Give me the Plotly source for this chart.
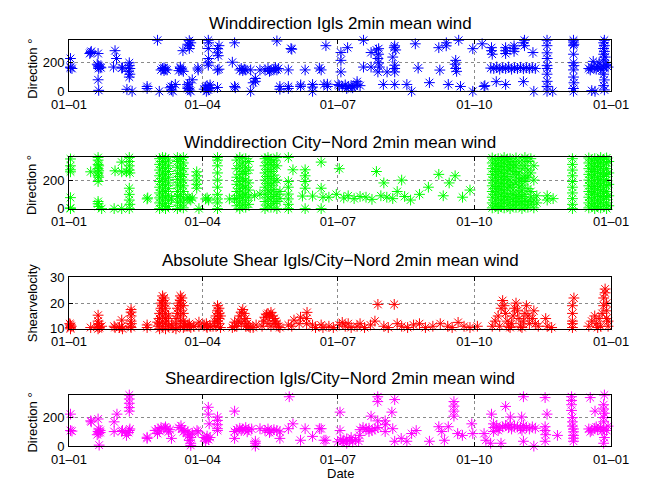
import plotly.graph_objects as go

# ---------------- data (day of year since 01-01, value) ----------------
IGLS_DIR = [
    (1,230),(1,165),(2,160),(1,170),
    (14.6,272),(15,280),(14,265),
    (19.6,265),(19.6,183),(20,175),(19,190),(21,170),(20,160),(21.5,165),(19.6,81),(20,7),
    (31,285),(32,230),(30,170),(35.5,163),(36,165),
    (40.6,200),(40.6,180),(41,160),(40,140),(41,120),(40.6,100),(39,14),(42.5,0),
    (52.6,34),(52.6,20),(60.8,0),(59.6,358),
    (62,150),(63,160),(64,145),(65,155),(66,150),(64,165),
    (69,10),(69,34),(68,25),(71.6,48),(70,0),
    (74,145),(75,160),(76,150),(77,140),(75,170),
    (76.7,285),(81,300),(81,320),(82,340),(81,355),(80,330),
    (79.8,47),(80,30),(81,10),(82,0),(81,60),(83,81),(80,20),
    (86.8,163),(87,150),
    (92,30),(93,40),(94,25),(95,20),(93.8,10),(92.5,0),(95,45),(91,15),
    (93.8,183),(93.8,200),(94,230),(93.8,300),(94,340),(93.8,358),
    (100,300),(100,270),(100.5,250),(101,320),(100,149),(101,155),(100,27),
    (111.5,340),(110,204),(111.5,34),(112,25),
    (115,150),(116,160),(117,145),(118,155),(119,150),
    (122.3,150),(122.3,0),(125.5,70),(125.5,90),(124,60),(128.6,150),
    (132,150),(134,160),(136,145),(138,155),(140,150),(141,160),(135,140),(139,165),
    (140,353),(142,34),(142,15),(147.7,150),(149.5,300),(150,295),(147.7,34),(147.7,20),
    (155.9,34),(156,45),(159,150),(164,0),(164,30),(164,48),(169.8,150),(173,320),(174,34),(174,50),
    (168.6,163),(171.7,48),
    (181.2,48),(183.1,272),(183.1,217),(183.1,136),(187.6,306),
    (182,40),(184,34),(186,45),(188,30),(190,40),(192,35),(194,50),(196,40),(187,20),(191,25),
    (194,68),(198.3,170),(198.3,358),(203.4,170),(203.4,272),
    (208.5,299),(208.5,260),(208,230),(208.5,200),(209,170),(208,136),(207,290),
    (214.2,136),(219.3,319),(219,306),(220,290),(219.3,183),(218,240),(219.3,160),(219.3,136),
    (211.7,48),(219.3,48),(227.5,48),(230.7,0),(233.2,333),(235.1,163),(242.7,61),
    (249,306),(249.7,149),(254.1,340),(254,319),(255.4,48),(260.4,217),(260,190),(260.4,160),
    (261,140),(262.4,358),(263.6,34),(271.9,299),(271.9,0),
    (278.2,333),(279.5,34),(280,40),
    (284.5,306),(284.5,285),(285,260),
    (284,163),(286,160),(288,170),(290,155),(292,165),(294,160),(296,170),(298,155),
    (300,165),(302,160),(304,168),(306,158),(308,165),(310,160),(312,165),(314,160),
    (294,306),(294,285),(294,265),(299.7,319),(299.7,300),(299.7,280),(306.7,358),(306,340),
    (306.7,320),(312.4,272),
    (287.7,68),(294,48),(306,68),(313,0),
    (321.9,358),(321.9,320),(321.9,270),(322,230),(321.9,180),(322,160),(321.9,120),(322,70),
    (321.9,34),(321.9,0),(325.7,0),
    (339.7,358),(339.7,345),(340,330),(339.7,320),(339.7,260),(339.7,200),(340,180),(339.7,150),
    (339.7,100),(340,60),(339.7,20),(339.7,0),
    (350,160),(352,170),(354,165),(356,175),(358,160),(360,170),(362,180),(351,150),(355,155),
    (359,150),(361,190),(353,210),(357,200),(363,170),
    (354.2,0),(352,5),
    (360.5,358),(360,340),(360.5,320),(360,300),(360.5,280),(360,260),(361,240),(360,220),
    (360,120),(360.5,80),(360,40),(360.5,10),
]

CITY_DIR = [
    (1,348),(1,300),(1,272),(1,258),(1,77),(1,5),(1,0),
    (14.6,258),
    (19.6,358),(19.6,340),(19.6,310),(20,300),(19.6,280),(20,265),(19.6,250),(19.6,230),(20,220),
    (19.6,190),(19.6,50),(19.6,34),(20,15),
    (22,0),(30.4,0),(31,265),(35.5,326),(35.5,258),(35.5,0),(38.7,258),
    (40.6,358),(40.6,330),(40.6,300),(40.6,270),(41,250),(40.6,143),(40.6,100),(40.6,60),(41,30),(40.6,0),
    (52.6,68),(53,75),
    (61,0),(61,40),(61,75),(61,110),(61,150),(61,190),(61,230),(61,270),(61,310),(61,350),
    (63,20),(63,60),(63,95),(63,130),(63,170),(63,210),(63,250),(63,290),(63,330),(63,358),
    (65,0),(65,35),(65,80),(65,120),(65,160),(65,200),(65,240),(65,280),(65,320),(65,355),
    (67,15),(67,55),(67,90),(67,140),(67,180),(67,220),(67,260),(67,300),(67,340),
    (69,68),
    (73,0),(73,45),(73,85),(73,120),(73,165),(73,205),(73,245),(73,290),(73,330),(73,358),
    (75,20),(75,60),(75,100),(75,145),(75,185),(75,225),(75,265),(75,305),(75,345),
    (77,5),(77,40),(77,75),(77,120),(77,160),(77,200),(77,240),(77,280),(77,320),(77,358),
    (81,68),(82,60),(83,75),(80,80),
    (86,143),(86,170),(86,200),(86,230),(86,258),(87.5,0),
    (92,68),(93,75),(94,60),
    (100,0),(100,40),(100,68),(100,100),(100,150),(100,200),(100,250),(100,300),(100,340),(100,358),
    (108,68),(111.5,68),
    (113,20),(113,70),(113,120),(113,170),(113,220),(113,280),(113,340),
    (115,0),(115,45),(115,90),(115,140),(115,190),(115,240),(115,300),(115,358),
    (117,25),(117,75),(117,110),(117,160),(117,210),(117,260),(117,320),
    (119,10),(119,55),(119,100),(119,150),(119,200),(119,245),(119,290),(119,350),
    (121,30),(121,80),(121,130),(121,180),(121,270),(121,330),
    (125,90),(128.6,102),
    (132,0),(132,50),(132,100),(132,150),(132,200),(132,250),(132,300),(132,350),
    (134,25),(134,75),(134,125),(134,175),(134,225),(134,275),(134,325),(134,358),
    (136,10),(136,60),(136,110),(136,160),(136,210),(136,260),(136,310),(136,345),
    (138,35),(138,85),(138,135),(138,185),(138,235),(138,285),(138,335),
    (140,0),(140,50),(140,100),(140,200),(140,300),(140,358),
    (142,70),(142,120),
    (147.7,358),(147.7,190),(147.7,150),(147.7,102),(147.7,68),(147.7,30),(147.7,0),
    (150.8,272),(157.2,88),(159,272),(159,230),(159,190),(159,143),(159,0),(164,88),
    (169.8,326),(169.8,143),(169.8,0),(171,80),
    (175,80),(180,100),(182,280),(185,75),(188,90),(192,70),(196,85),(200,80),(204,65),(207,260),
    (210,90),(212,180),(214,80),(218,70),(221,120),(224,200),(226,85),(230,60),(236,100),(242,150),
    (249,240),(252,90),(256,180),(260,230),(265,80),(270,130),
    (285,5),(285,40),(285,80),(285,120),(285,160),(285,200),(285,240),(285,280),(285,320),(285,355),
    (287,20),(287,60),(287,100),(287,140),(287,180),(287,220),(287,260),(287,300),(287,340),
    (289,0),(289,35),(289,75),(289,115),(289,155),(289,195),(289,235),(289,275),(289,315),(289,350),
    (291,15),(291,55),(291,95),(291,135),(291,175),(291,215),(291,255),(291,295),(291,335),
    (293,5),(293,45),(293,85),(293,125),(293,165),(293,205),(293,245),(293,285),(293,325),(293,358),
    (295,25),(295,65),(295,105),(295,145),(295,185),(295,225),(295,265),(295,305),(295,345),
    (297,0),(297,40),(297,80),(297,150),(297,200),(297,270),(297,310),(297,350),
    (299,20),(299,60),(299,100),(299,130),(299,170),(299,240),(299,290),(299,330),
    (301,10),(301,50),(301,90),(301,180),(301,220),(301,260),(301,300),(301,355),
    (303,30),(303,70),(303,110),(303,150),(303,200),(303,250),(303,320),
    (305,0),(305,45),(305,85),(305,125),(305,165),(305,210),(305,280),(305,340),
    (307,20),(307,60),(307,100),(307,190),(307,230),(307,300),(307,358),
    (309,10),(309,50),(309,140),(309,220),(309,270),(309,330),
    (311,30),(311,80),(311,120),(311,250),(311,350),
    (313,5),(313,60),(313,200),(313,300),
    (315,40),(315,90),
    (322,60),(322,90),(326,70),
    (339,0),(339,30),(339,70),(339,110),(339,150),(339,190),(339,230),(339,270),(339,310),(339,350),
    (350,5),(350,40),(350,80),(350,120),(350,160),(350,200),(350,240),(350,280),(350,320),(350,355),
    (352,20),(352,60),(352,100),(352,140),(352,180),(352,220),(352,260),(352,300),(352,340),
    (354,0),(354,35),(354,75),(354,115),(354,155),(354,195),(354,235),(354,275),(354,315),(354,350),
    (356,15),(356,55),(356,95),(356,135),(356,175),(356,215),(356,255),(356,295),(356,335),
    (358,5),(358,45),(358,85),(358,125),(358,165),(358,205),(358,245),(358,285),(358,325),(358,358),
    (360,25),(360,65),(360,105),(360,145),(360,185),(360,225),(360,265),(360,305),(360,345),
    (362,0),(362,40),(362,80),(362,120),(362,160),(362,200),(362,240),(362,280),(362,320),(362,355),
    (363.5,20),(363.5,90),(363.5,170),(363.5,250),(363.5,330),
]

SHEAR_ABS = [
    (1,11.5),(1,10.5),(1.5,11),(0.5,12),(1,10),
    (14.6,10.5),(19.6,15.3),(19.6,13),(20,12),(19,11),(20.5,10.5),(19.6,10),(22,11),
    (30.4,11),(31,10.5),(35.5,13.4),(35.5,11),(36,10),(34,10.5),
    (41.8,17.5),(41.8,16.5),(41.8,15),(41.8,13),(42,12),(41.5,11),(41.8,10.5),
    (52.6,11.5),(52.6,10.5),(59.6,12.6),(60,11),
    (61,10),(61,12),(61,14),(61,16),(62,18),(62,20),(63,22.8),(63,21),(63,19),(63,17),(63,15),
    (63,13),(63,11),(64,22),(65,20),(65,18),(65,16),(65,14),(65,12),(65,10),(66,13),(67,11),(67,15),
    (69,11.5),(70,10.5),
    (72,10),(72,12),(72,14),(73,16),(73,18),(74,20),(75,22.8),(75,21),(75,19),(75,17),(75,15),
    (75,13),(75,11),(76,22),(77,19),(77,16),(77,13),(77,10.5),(78,12),(78,11),
    (81,12),(81,11),(82,10.5),(80,11.5),(84,11),
    (87.5,12.6),(87.5,11),(92.5,12),(92.5,11),(93,10.5),(91,11.5),(95,11),
    (97,11),(98,13),(99,15),(100,17),(100,19),(101,18),(101,16),(101,14),(101,12),(102,10.5),
    (99,11),(100,13),(102,15),
    (111.5,12.6),(111.5,11),(110,10.5),
    (113,11),(114,13),(115,15),(116,16.5),(117,17.5),(118,16),(119,14),(120,12),(121,11),
    (122,10.5),(116,12),(118,13),(119,11),
    (126,11.5),(124,10.5),
    (130,11),(131,13),(132,14.5),(133,15.5),(134,16),(135,15),(136,16.4),(137,15),(138,14),
    (139,13),(140,12),(141,11),(142,10.5),(134,12),(136,11),(138,12),
    (147.7,11.5),(151.5,13.4),(150,11),(155.9,14.5),(155,12),(160.3,16.4),(160,14),(160,12),
    (164,11.5),(166,10.5),(169.8,11.5),(171,10.5),
    (175,11),(178,10.5),(182,11.5),(184,12.5),(186,11),(188,12),(190,10.5),(194,11),(196,12),
    (199,10.5),(203,11.5),(206,13),(208,19.5),(212,11),(215,10.5),(219,19.5),(221,12),(224,11),
    (228,10.5),(232,11.5),(236,12),(240,10.5),(245,11),(250,12),(255,11),(258,10.5),(262,12.5),
    (266,11),(270,10.5),(275,11),
    (285,11),(287,13),(289,15),(291,18),(292,21),(293,19),(294,16),(295,13),(296,11),(298,12),
    (299,15),(300,18),(301,20),(302,17),(303,14),(304,11),(306,13),(307,16),(308,19),(309,15),
    (310,12),(312,14),(313,17),(314,12),(316,11),(290,11),(297,10.5),(305,10.5),
    (321,14),(322,11),(325,10.5),
    (339,10.5),(339,13),(339,16),(339,19),(340,22),(339,12),
    (350,11),(352,13),(354,15),(355,12),(357,14),(358,11),(359,16),(360,19),(360,22),(361,24),
    (362,20),(362,17),(362,14),(363,11),(361,25.5),(363,13),(356,10.5),
]

SHEAR_DIR = [
    (1,224),(1,109),(2,105),
    (14.6,177),(15,170),
    (19.6,190),(19.6,102),(20,90),(21,110),(19,80),(20,120),(21,95),(20.3,7),
    (30.4,170),(32.3,224),(30.4,102),(35.5,102),(36,110),
    (40.6,358),(40.6,330),(40.6,300),(40.6,270),(40.6,245),(40.6,109),(41,120),(40,95),(38.7,75),
    (52.6,54),(52.6,62),(59.6,88),
    (58,110),(60,120),(62,130),(64,125),(66,120),(68,115),(61,105),(65,135),(67,100),
    (69,54),(75.4,143),(78,109),(76,120),(77,100),(74,130),
    (80,100),(81,80),(82,60),(81,40),(82,20),(80,70),(83,90),(82,5),
    (86.2,109),(87,100),
    (91,60),(92.5,54),(94,45),(93,70),(92,35),(95,60),
    (93.8,272),(93.8,224),(94.4,156),(100,204),(100,180),(100,150),(100,122),(100,109),
    (111.5,245),(111.5,102),(111.5,54),
    (113,115),(115,125),(117,120),(119,130),(121,115),(123,120),(116,110),(120,100),
    (125.5,34),(125.5,20),(125.5,0),(128.6,122),
    (132,110),(134,120),(136,105),(138,115),(140,110),(142,100),(135,95),
    (142,54),(148.3,346),(147.7,122),(150.8,156),(155.9,41),(159,122),(164,68),(169.8,122),(171.7,41),
    (168.6,122),(173,41),(182.5,238),(182.5,109),(184.4,34),
    (181,30),(183,45),(185,35),(187,50),(189,40),(191,30),(193,45),(195,35),(187,20),(190,60),(195.8,75),
    (203.4,210),(202,102),
    (196,115),(198,130),(200,120),(202,125),(204,110),(206,120),(208,130),
    (207.9,346),(207.9,312),(207.9,177),(212.9,177),(213,150),(212.9,102),(217.4,238),(219.3,326),
    (218,122),(219.3,34),(223.7,54),(227.5,34),(230.7,88),(233.8,109),(242.7,34),
    (249,136),(251,102),(252.8,41),(255.4,136),(259.2,312),(259.2,280),(259.2,245),(259.2,210),
    (261.7,88),(264.9,75),(271.2,156),(271.9,88),(279.5,88),(280.7,41),(283.9,20),(284.5,224),
    (285.8,156),(285.8,102),
    (286,130),(288,140),(290,125),(292,135),(294,145),(296,130),(298,120),(300,140),(302,135),
    (304,125),(306,145),(308,130),(310,120),(312,135),(314,125),(289,110),(297,150),(305,110),
    (294,278),(290.9,20),(297.2,204),(306,346),(304.8,204),(306,34),(313,0),
    (320.6,340),(321.9,224),(320.6,136),(320.6,109),(321,80),(320.6,34),(328.9,75),
    (338.4,346),(338.4,320),(338.4,290),(338.4,250),(339,200),(339,170),(339,140),(339.7,120),
    (339.7,100),(339.7,75),(339.7,55),(339.7,34),
    (351,340),(354.2,245),
    (350,120),(352,110),(354,125),(356,115),(358,130),(360,120),(362,110),(351,100),(355,135),
    (359,105),(363,140),
    (360.5,358),(360,290),(360,260),(360.5,230),(360,200),(360,170),(360.5,60),(360,20),
]

TITLES = [
    "Winddirection Igls 2min mean wind",
    "Winddirection City\u2212Nord 2min mean wind",
    "Absolute Shear Igls/City\u2212Nord 2min mean wind",
    "Sheardirection Igls/City\u2212Nord 2min mean wind",
]
YLABELS = ["Direction \u00b0", "Direction \u00b0", "Shearvelocity", "Direction \u00b0"]
XLABEL = "Date"
X_RANGE = [0, 365]
X_TICK_DAYS = [0, 90, 181, 273, 365]
X_TICK_TEXT = ["01\u201301", "01\u201304", "01\u201307", "01\u201310", "01\u201301"]
Y_RANGES = [[0, 360], [0, 360], [10, 30], [0, 360]]
Y_TICKS = [[0, 200], [0, 200], [10, 20, 30], [0, 200]]
COLORS = ["#0000ff", "#00ff00", "#ff0000", "#ff00ff"]
SERIES = [IGLS_DIR, CITY_DIR, SHEAR_ABS, SHEAR_DIR]

# ---------------- figure ----------------
W, H = 647, 489
FONT = "Liberation Sans"
X0, X1 = 54, 628
PANELS = [(34, 87), (155, 208), (279, 332), (400, 453)]   # top/bottom in px
TITLE_Y = [17, 140, 262, 383]
YLABEL_SHIFT = [3, 2, 0, 2]

fig = go.Figure()
layout = dict(
    width=W, height=H, margin=dict(l=0, r=0, t=0, b=0),
    paper_bgcolor="white", plot_bgcolor="white", showlegend=False,
    font=dict(family=FONT, size=13, color="black"),
)
annotations = []
for i, (pts, col) in enumerate(zip(SERIES, COLORS)):
    n = "" if i == 0 else str(i + 1)
    days = [p[0] for p in pts]
    vals = [p[1] for p in pts]
    fig.add_trace(go.Scatter(
        x=days, y=vals, mode="markers", cliponaxis=False,
        marker=dict(symbol="asterisk-open", size=9, color=col,
                    line=dict(color=col, width=1)),
        xaxis="x" + n, yaxis="y" + n, hoverinfo="skip",
    ))
    top, bot = PANELS[i]
    common = dict(showline=True, linecolor="black", linewidth=1, mirror="ticks",
                  ticks="inside", ticklen=4, tickcolor="black",
                  showgrid=True, gridcolor="#8a8a8a", griddash="dot", gridwidth=1,
                  zeroline=False, tickfont=dict(size=13, family=FONT))
    layout["xaxis" + n] = dict(
        domain=[X0 / W, X1 / W], anchor="y" + n, type="linear",
        range=X_RANGE, tickmode="array", tickvals=X_TICK_DAYS, ticktext=X_TICK_TEXT,
        ticklabelstandoff=1, **common)
    layout["yaxis" + n] = dict(
        domain=[1 - bot / H, 1 - top / H], anchor="x" + n,
        range=Y_RANGES[i], tickmode="array", tickvals=Y_TICKS[i],
        ticklabelstandoff=1, **common)
    annotations.append(dict(text=TITLES[i], x=(X0 + X1) / 2 / W, y=1 - TITLE_Y[i] / H,
                            xref="paper", yref="paper", showarrow=False,
                            xanchor="center", yanchor="middle",
                            font=dict(size=17, family=FONT)))
    annotations.append(dict(text=YLABELS[i], x=15 / W,
                            y=1 - ((top + bot) / 2 + YLABEL_SHIFT[i]) / H,
                            xref="paper", yref="paper", showarrow=False, textangle=-90,
                            xanchor="center", yanchor="middle",
                            font=dict(size=13, family=FONT)))
annotations.append(dict(text=XLABEL, x=(X0 + X1) / 2 / W, y=1 - 481.5 / H,
                        xref="paper", yref="paper", showarrow=False,
                        xanchor="center", yanchor="middle", font=dict(size=13, family=FONT)))
layout["annotations"] = annotations
fig.update_layout(**layout)
fig.write_html("out.html")
